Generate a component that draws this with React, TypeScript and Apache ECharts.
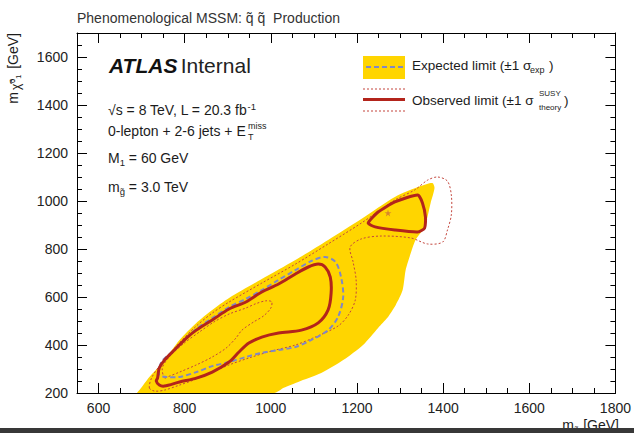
import { useEffect, useRef } from 'react';
import * as echarts from 'echarts';

type Pt = [number, number];

// axis ranges and tick labels (GeV)
const xRange: Pt = [550, 1800];
const yRange: Pt = [200, 1700];
const xMajorTicks = [600, 800, 1000, 1200, 1400, 1600, 1800];
const yMajorTicks = [200, 400, 600, 800, 1000, 1200, 1400, 1600];

// contours in the (m_squark, m_neutralino) plane, GeV
const expectedBand: Pt[] = [
  [690, 200], [695, 212], [718, 267], [748, 325], [788, 421], [827, 492], [864, 546],
  [903, 596], [979, 675], [1057, 754], [1133, 838], [1210, 925], [1288, 1017],
  [1348, 1062], [1375, 1075], [1380, 1054], [1371, 992], [1357, 892], [1336, 838],
  [1322, 767], [1313, 712], [1306, 629], [1290, 567], [1270, 512], [1249, 471],
  [1214, 400], [1168, 337], [1117, 283], [1062, 245], [1030, 222], [1008, 200],
];

const expectedLimit: Pt[] = [
  [741, 275], [746, 329], [776, 379], [804, 429], [827, 467], [864, 512], [903, 558],
  [942, 592], [979, 629], [1018, 671], [1057, 712], [1094, 750], [1126, 767],
  [1150, 746], [1163, 683], [1168, 600], [1156, 517], [1133, 462], [1094, 421],
  [1057, 392], [1018, 379], [979, 367], [942, 350], [903, 329], [864, 312],
  [827, 287], [788, 267], [757, 267],
];

const observedMain: Pt[] = [
  [737, 262], [741, 304], [753, 337], [776, 379], [804, 429], [827, 462], [864, 504],
  [903, 550], [942, 579], [979, 621], [1018, 654], [1057, 696], [1087, 725],
  [1110, 737], [1126, 725], [1138, 683], [1140, 617], [1133, 546], [1110, 492],
  [1071, 462], [1018, 450], [979, 433], [949, 408], [926, 371], [903, 329],
  [864, 287], [827, 262], [788, 246], [753, 229], [741, 233], [734, 250],
];

const observedIsland: Pt[] = [
  [1226, 908], [1249, 954], [1288, 996], [1341, 1025], [1352, 992], [1359, 933],
  [1357, 887], [1341, 871], [1288, 879], [1242, 892],
];

const observedMinus: Pt[] = [
  [753, 262], [748, 304], [764, 350], [799, 408], [834, 454], [868, 496], [903, 529],
  [942, 554], [965, 572], [988, 584], [1002, 580], [1000, 554], [983, 521],
  [960, 496], [933, 462], [919, 429], [896, 387], [864, 350], [827, 317],
  [788, 287], [760, 267],
];

const observedPlus: Pt[] = [
  [718, 221], [723, 262], [741, 312], [783, 400], [827, 479], [864, 533], [903, 579],
  [979, 658], [1057, 737], [1133, 821], [1210, 908], [1288, 1004], [1334, 1046],
  [1364, 1087], [1387, 1100], [1410, 1083], [1419, 1025], [1419, 942], [1410, 879],
  [1399, 829], [1364, 821], [1325, 846], [1256, 854], [1210, 842], [1184, 808],
  [1191, 746], [1198, 671], [1196, 587], [1180, 525], [1156, 479], [1103, 433],
  [1057, 400], [1002, 375], [949, 346], [903, 317], [864, 287], [827, 258],
  [788, 233], [753, 212], [730, 208],
];

const bestFit: Pt[] = [[1272, 950]];

const FONT = '"Liberation Sans", Arial, Helvetica, sans-serif';
const INK = '#1c1c1c';
const YELLOW = '#ffd500';
const RED = '#b3241b';
const RED_THIN = '#c4453c';
const BLUE = '#8088c6';

const contour = (name: string, pts: Pt[], style: Record<string, unknown>, smooth = 0.3) => ({
  type: 'custom',
  name,
  coordinateSystem: 'cartesian2d',
  xAxisIndex: 0,
  yAxisIndex: 0,
  clip: true,
  silent: true,
  data: pts,
  encode: { x: 0, y: 1 },
  renderItem: (params: any, api: any) => {
    if (params.dataIndex !== 0) return null;
    return {
      type: 'polygon',
      shape: { points: pts.map((p) => api.coord(p)), smooth },
      style,
    };
  },
});

const frameAxis = (
  position: string,
  range: Pt,
  majors: number[],
  labelled: boolean,
  major: boolean,
) => ({
  type: 'value',
  position,
  min: range[0],
  max: range[1],
  ...(major ? {} : { interval: 50 }),
  axisLine: { show: !major, onZero: false, lineStyle: { color: '#000', width: 1 } },
  axisTick: major
    ? { show: true, inside: true, length: 10, customValues: majors, lineStyle: { color: '#000', width: 1 } }
    : { show: true, inside: true, length: 5, lineStyle: { color: '#000', width: 1 } },
  axisLabel: labelled
    ? {
        show: true,
        fontFamily: FONT,
        fontSize: 14,
        color: '#222',
        margin: position === 'left' ? 9 : 8,
        formatter: (v: number) => (majors.includes(v) ? String(v) : ''),
      }
    : { show: false },
  splitLine: { show: false },
  minorTick: { show: false },
});

export default function App() {
  const ref = useRef<HTMLDivElement>(null);

  useEffect(() => {
    if (!ref.current) return;
    const chart = echarts.init(ref.current, undefined, { renderer: 'svg' });

    const txt = (x: number, y: number, text: string, size: number, extra: Record<string, unknown> = {}) => ({
      type: 'text',
      x,
      y,
      silent: true,
      style: {
        text,
        fontFamily: FONT,
        fontSize: size,
        fill: INK,
        align: 'left',
        verticalAlign: 'middle',
        ...extra,
      },
    });

    const richBase = (size: number) => ({
      sub: { fontSize: size * 0.68, fontFamily: FONT, fill: INK, verticalAlign: 'bottom', lineHeight: size * 0.7 },
      sup: { fontSize: size * 0.68, fontFamily: FONT, fill: INK, verticalAlign: 'top', lineHeight: size * 0.7 },
    });

    chart.setOption({
      animation: false,
      backgroundColor: '#fff',
      grid: { left: 77, right: 15, top: 33, bottom: 40, containLabel: false },
      xAxis: [
        frameAxis('bottom', xRange, xMajorTicks, true, false),
        frameAxis('bottom', xRange, xMajorTicks, false, true),
        frameAxis('top', xRange, xMajorTicks, false, false),
        frameAxis('top', xRange, xMajorTicks, false, true),
      ],
      yAxis: [
        frameAxis('left', yRange, yMajorTicks, true, false),
        frameAxis('left', yRange, yMajorTicks, false, true),
        frameAxis('right', yRange, yMajorTicks, false, false),
        frameAxis('right', yRange, yMajorTicks, false, true),
      ],
      series: [
        contour('Expected limit band', expectedBand, { fill: YELLOW, stroke: 'none' }, 0.25),
        contour('Observed +1 sigma', observedPlus, {
          fill: 'none', stroke: RED_THIN, lineWidth: 1, lineDash: [2, 2],
        }),
        contour('Observed -1 sigma', observedMinus, {
          fill: 'none', stroke: RED_THIN, lineWidth: 1, lineDash: [2, 2],
        }),
        contour('Expected limit', expectedLimit, {
          fill: 'none', stroke: BLUE, lineWidth: 2, lineDash: [5, 3],
        }),
        contour('Observed limit', observedMain, { fill: 'none', stroke: RED, lineWidth: 3 }),
        contour('Observed limit island', observedIsland, { fill: 'none', stroke: RED, lineWidth: 3 }, 0.2),
        {
          type: 'scatter',
          name: 'best fit',
          silent: true,
          data: bestFit,
          symbol: 'path://M0,-1 L0.22,-0.31 L0.95,-0.31 L0.36,0.12 L0.59,0.81 L0,0.38 L-0.59,0.81 L-0.36,0.12 L-0.95,-0.31 L-0.22,-0.31 Z',
          symbolSize: 7,
          itemStyle: { color: '#c86a3c', opacity: 0.75 },
        },
      ],
      graphic: [
        // header
        txt(77, 18, 'Phenomenological MSSM: q\u0303 q\u0303  Production', 14, { fill: '#333' }),
        // experiment label
        {
          type: 'text', x: 109, y: 65, silent: true,
          style: {
            text: '{a|ATLAS} {b|Internal}',
            verticalAlign: 'middle',
            rich: {
              a: { fontFamily: FONT, fontSize: 21, fontWeight: 'bold', fontStyle: 'italic', fill: '#111' },
              b: { fontFamily: FONT, fontSize: 21, fill: '#222' },
            },
          },
        },
        {
          type: 'text', x: 108, y: 110, silent: true,
          style: {
            text: '\u221As = 8 TeV, L = 20.3 fb{sup|-1}',
            fontFamily: FONT, fontSize: 14, fill: INK, verticalAlign: 'middle', lineHeight: 18,
            rich: richBase(14),
          },
        },
        txt(108, 131, '0-lepton + 2-6 jets + E', 14),
        txt(248, 126, 'miss', 9),
        txt(248, 137, 'T', 9),
        {
          type: 'text', x: 108, y: 158, silent: true,
          style: {
            text: 'M{sub|1} = 60 GeV',
            fontFamily: FONT, fontSize: 14, fill: INK, verticalAlign: 'middle', lineHeight: 18,
            rich: richBase(14),
          },
        },
        {
          type: 'text', x: 108, y: 187, silent: true,
          style: {
            text: 'm{sub|g\u0303} = 3.0 TeV',
            fontFamily: FONT, fontSize: 14, fill: INK, verticalAlign: 'middle', lineHeight: 18,
            rich: richBase(14),
          },
        },
        // legend
        { type: 'rect', silent: true, shape: { x: 363, y: 56, width: 42, height: 23 }, style: { fill: YELLOW } },
        {
          type: 'line', silent: true, shape: { x1: 366, y1: 67, x2: 403, y2: 67 },
          style: { stroke: BLUE, lineWidth: 2, lineDash: [5, 3] },
        },
        txt(412, 65, 'Expected limit (\u00B11 \u03C3', 13.5),
        txt(530, 70, 'exp', 9),
        txt(549, 65, ')', 13.5),
        {
          type: 'line', silent: true, shape: { x1: 363, y1: 89, x2: 405, y2: 89 },
          style: { stroke: RED_THIN, lineWidth: 1, lineDash: [2, 2] },
        },
        {
          type: 'line', silent: true, shape: { x1: 363, y1: 99.5, x2: 405, y2: 99.5 },
          style: { stroke: RED, lineWidth: 3 },
        },
        {
          type: 'line', silent: true, shape: { x1: 363, y1: 111, x2: 405, y2: 111 },
          style: { stroke: RED_THIN, lineWidth: 1, lineDash: [2, 2] },
        },
        txt(412, 100, 'Observed limit (\u00B11 \u03C3', 13.5),
        txt(539, 93, 'SUSY', 8),
        txt(539, 107, 'theory', 8),
        txt(564, 100, ')', 13.5),
        // axis titles
        {
          type: 'text', x: 13, y: 33, rotation: Math.PI / 2, silent: true,
          style: {
            text: 'm{sub|\u03C7\u0303}{sub2|\u2070\u2081} [GeV]',
            fontFamily: FONT, fontSize: 14, fill: INK, align: 'right', verticalAlign: 'middle', lineHeight: 18,
            rich: {
              sub: { fontSize: 12, fontFamily: FONT, fill: INK, verticalAlign: 'bottom', lineHeight: 12, padding: [0, 1, 0, 2] },
              sub2: { fontSize: 12, fontFamily: FONT, fill: INK, verticalAlign: 'bottom', lineHeight: 12, padding: [0, 2, 0, 0] },
            },
          },
        },
        {
          type: 'text', x: 619, y: 425, silent: true,
          style: {
            text: 'm{sub|q\u0303} [GeV]',
            fontFamily: FONT, fontSize: 14, fill: INK, align: 'right', verticalAlign: 'middle', lineHeight: 18,
            rich: richBase(14),
          },
        },
        // bottom edge strip
        { type: 'rect', silent: true, shape: { x: 0, y: 428, width: 634, height: 5 }, style: { fill: '#383838' } },
      ],
    });

    return () => chart.dispose();
  }, []);

  return (
    <div
      ref={ref}
      style={{ position: 'fixed', left: 0, top: 0, width: 634, height: 433, background: '#fff' }}
    />
  );
}
